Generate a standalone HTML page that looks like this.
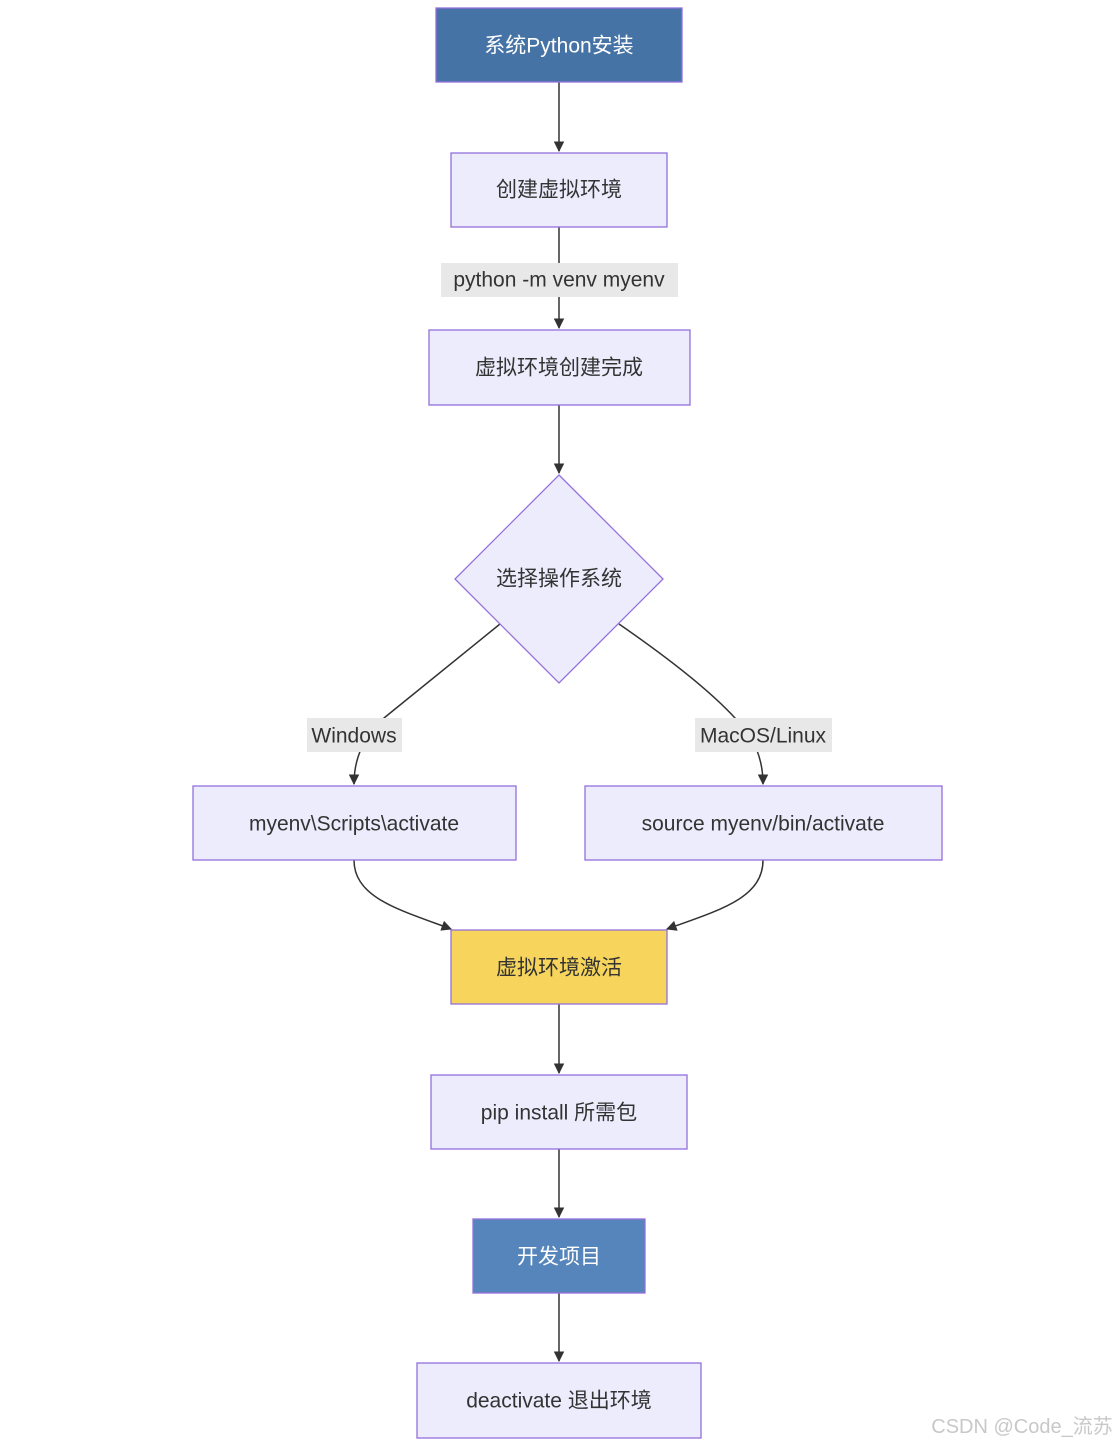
<!DOCTYPE html>
<html><head><meta charset="utf-8"><style>
html,body{margin:0;padding:0;background:#fff;}
svg{display:block;}
text{font-family:"Liberation Sans","Noto Sans CJK SC",sans-serif;font-size:21px;fill:#333;text-anchor:middle;dominant-baseline:central;}
.n{fill:#ececfc;stroke:#9370db;stroke-width:1.3;}
.e{fill:none;stroke:#333;stroke-width:1.5;}
.lb{fill:#e8e8e8;}
</style></head><body>
<svg width="1120" height="1447" viewBox="0 0 1120 1447">
<defs><marker id="a" viewBox="0 0 10 10" refX="9" refY="5" markerWidth="7" markerHeight="7" orient="auto"><path d="M0,0L10,5L0,10z" fill="#333"/></marker></defs>
<!-- edges -->
<path class="e" d="M559,82V151" marker-end="url(#a)"/>
<path class="e" d="M559,227V328" marker-end="url(#a)"/>
<path class="e" d="M559,405V473" marker-end="url(#a)"/>
<path class="e" d="M500,624 L384,718 Q354,745 354,784" marker-end="url(#a)"/>
<path class="e" d="M619,624 Q700,680 735,718 Q763,745 763,784" marker-end="url(#a)"/>
<path class="e" d="M354,860 C354,898 400,910 451,929" marker-end="url(#a)"/>
<path class="e" d="M763,860 C763,898 720,910 667,929" marker-end="url(#a)"/>
<path class="e" d="M559,1004V1073" marker-end="url(#a)"/>
<path class="e" d="M559,1149V1217" marker-end="url(#a)"/>
<path class="e" d="M559,1293V1361" marker-end="url(#a)"/>
<!-- labels -->
<rect class="lb" x="441" y="263" width="237" height="34"/><text x="559" y="280">python -m venv myenv</text>
<rect class="lb" x="307" y="718" width="95" height="34"/><text x="354" y="736">Windows</text>
<rect class="lb" x="695" y="718" width="137" height="34"/><text x="763" y="736">MacOS/Linux</text>
<!-- nodes -->
<rect x="436" y="8" width="246" height="74" fill="#4673a6" stroke="#9370db" stroke-width="1.3"/><text x="559" y="46" style="fill:#fff">系统Python安装</text>
<rect class="n" x="451" y="153" width="216" height="74"/><text x="559" y="190">创建虚拟环境</text>
<rect class="n" x="429" y="330" width="261" height="75"/><text x="559" y="368">虚拟环境创建完成</text>
<path class="n" d="M559,475L663,579L559,683L455,579z"/><text x="559" y="579">选择操作系统</text>
<rect class="n" x="193" y="786" width="323" height="74"/><text x="354" y="824">myenv\Scripts\activate</text>
<rect class="n" x="585" y="786" width="357" height="74"/><text x="763" y="824">source myenv/bin/activate</text>
<rect x="451" y="930" width="216" height="74" fill="#f7d55c" stroke="#9370db" stroke-width="1.3"/><text x="559" y="968">虚拟环境激活</text>
<rect class="n" x="431" y="1075" width="256" height="74"/><text x="559" y="1113">pip install 所需包</text>
<rect x="473" y="1219" width="172" height="74" fill="#5585bb" stroke="#9370db" stroke-width="1.3"/><text x="559" y="1257" style="fill:#fff">开发项目</text>
<rect class="n" x="417" y="1363" width="284" height="75"/><text x="559" y="1401">deactivate 退出环境</text>
<text x="1022" y="1427" style="font-size:20px;fill:#c8c8c8">CSDN @Code_流苏</text>
</svg>
</body></html>
